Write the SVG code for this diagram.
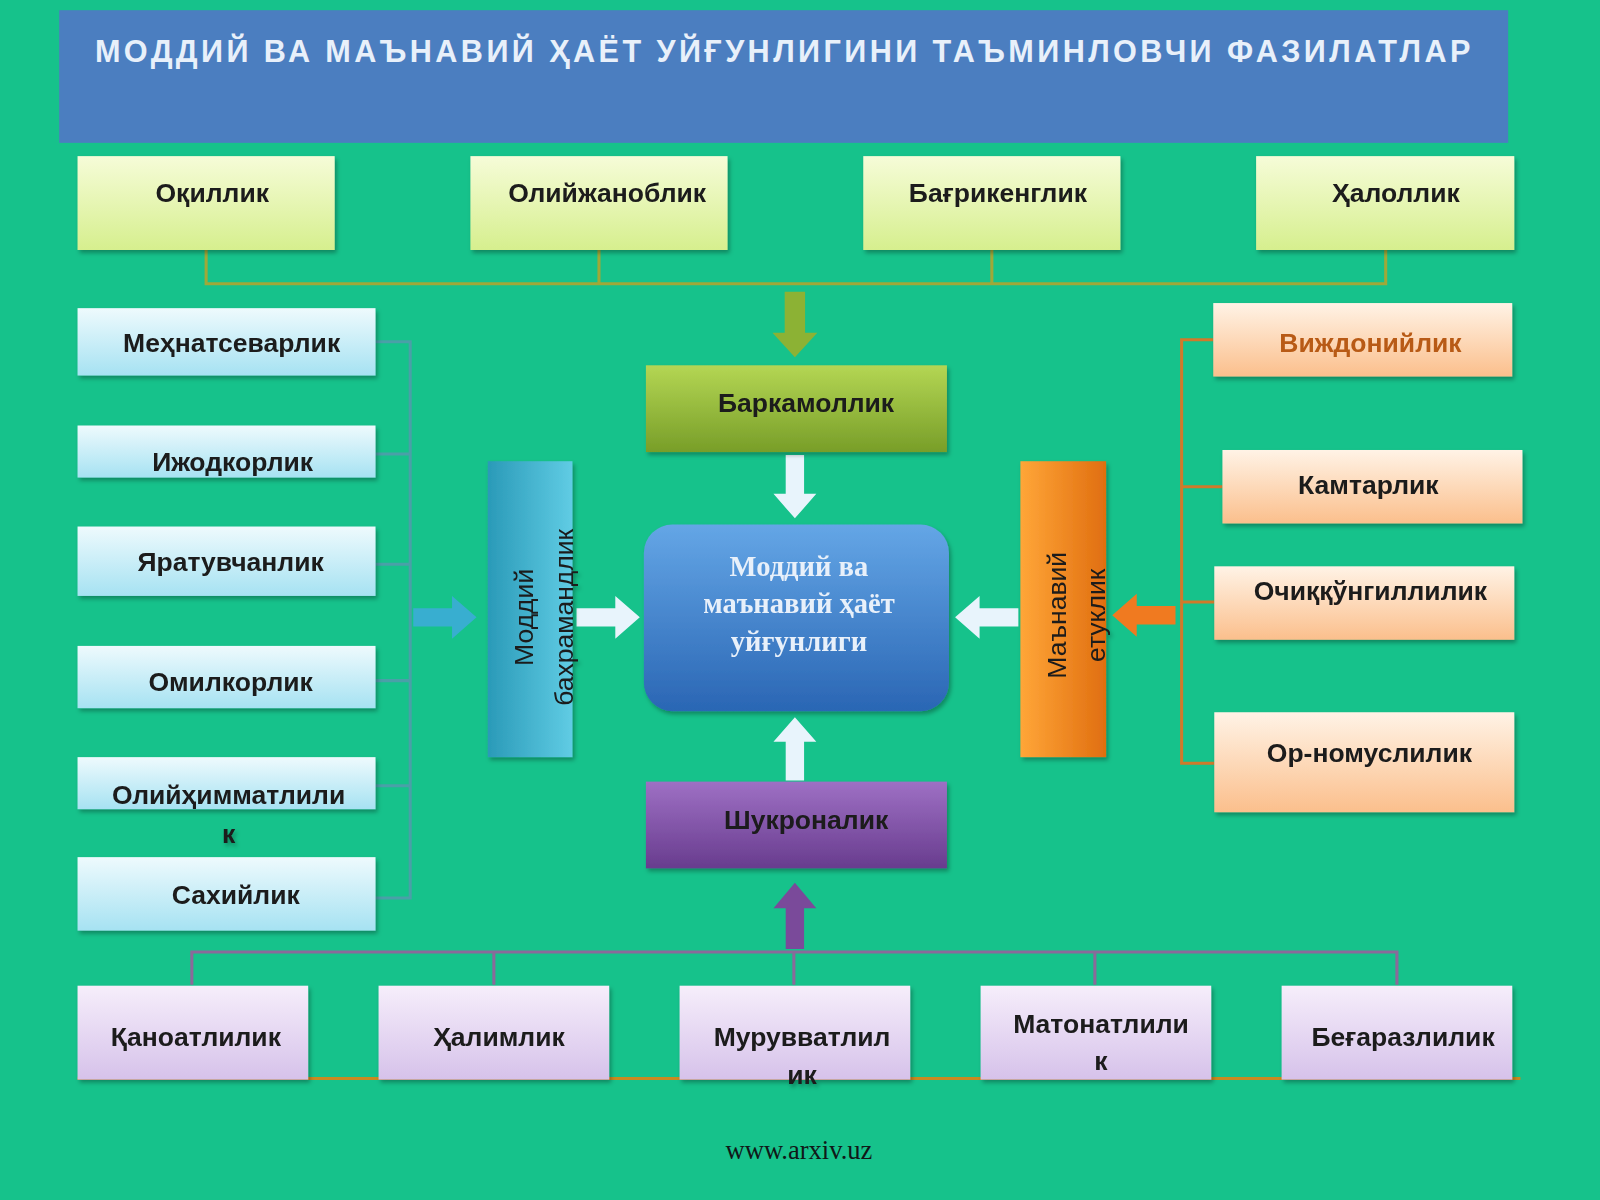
<svg xmlns="http://www.w3.org/2000/svg" width="1600" height="1200" viewBox="0 0 1600 1200">
<defs>
<linearGradient id="gY" x1="0" y1="0" x2="0" y2="1"><stop offset="0" stop-color="#f6fcd8"/><stop offset="1" stop-color="#d6ef8e"/></linearGradient>
<linearGradient id="gC" x1="0" y1="0" x2="0" y2="1"><stop offset="0" stop-color="#eefafd"/><stop offset="1" stop-color="#a6e2f2"/></linearGradient>
<linearGradient id="gP" x1="0" y1="0" x2="0" y2="1"><stop offset="0" stop-color="#fff3e6"/><stop offset="1" stop-color="#fbbf8c"/></linearGradient>
<linearGradient id="gL" x1="0" y1="0" x2="0" y2="1"><stop offset="0" stop-color="#f6eefb"/><stop offset="1" stop-color="#d6c2ea"/></linearGradient>
<linearGradient id="gG" x1="0" y1="0" x2="0" y2="1"><stop offset="0" stop-color="#b4d654"/><stop offset="1" stop-color="#789e28"/></linearGradient>
<linearGradient id="gV" x1="0" y1="0" x2="0" y2="1"><stop offset="0" stop-color="#9e70c4"/><stop offset="1" stop-color="#683c8e"/></linearGradient>
<linearGradient id="gB" x1="0" y1="0" x2="0" y2="1"><stop offset="0" stop-color="#64a6e6"/><stop offset="1" stop-color="#2a66b4"/></linearGradient>
<linearGradient id="gCy" x1="0" y1="0" x2="1" y2="0"><stop offset="0" stop-color="#2a9ab8"/><stop offset="1" stop-color="#60cce4"/></linearGradient>
<linearGradient id="gO" x1="0" y1="0" x2="1" y2="0"><stop offset="0" stop-color="#ffa638"/><stop offset="1" stop-color="#e06e10"/></linearGradient>
<filter id="sh" x="-10%" y="-10%" width="130%" height="130%"><feDropShadow dx="2" dy="3" stdDeviation="2" flood-color="#000" flood-opacity="0.3"/></filter>
</defs>
<style>
.t{font-family:"Liberation Sans",Arial,sans-serif;font-size:26px;font-weight:bold;fill:#1a1a1a;text-anchor:middle}
.box{filter:url(#sh)}
.ln{fill:none;stroke-width:3}
</style>
<rect width="1600" height="1200" fill="#16c28b"/>
<g transform="scale(1.0204)">
<g id="title"><rect x="58" y="10" width="1420" height="130" fill="#4b7ec0"/>
<text x="93" y="61" textLength="1348" style="font-family:'Liberation Sans',Arial,sans-serif;font-size:30px;font-weight:bold;fill:#e8f0fa">МОДДИЙ ВА МАЪНАВИЙ ҲАЁТ УЙҒУНЛИГИНИ ТАЪМИНЛОВЧИ ФАЗИЛАТЛАР</text></g>
<g id="connectors">
<path class="ln" stroke="#a0a838" d="M202 245V278H1358V245M587 245V278M972 245V278"/>
<path class="ln" stroke="#4aa0a8" d="M368 335H402V880H368M368 445H402M368 553H402M368 667H402M368 770H402"/>
<path class="ln" stroke="#d07a2a" d="M1189 333H1158V748H1190M1158 477H1198M1158 590H1190"/>
<path class="ln" stroke="#8a6a9a" d="M188 965V933H1369V965M484 933V965M778 933V965M1073 933V965"/>
<path class="ln" stroke="#c88a20" d="M76 1057H1490"/>
<path d="M769 286h20v40h12l-22 24-22-24h12z" fill="#8cb234"/>
<path d="M770 446h18v38h12l-21 24-21-24h12z" fill="#e8f4fc"/>
<path d="M770 765h18v-38h12l-21-24-21 24h12z" fill="#e8f4fc"/>
<path d="M770 930h18v-40h12l-21-25-21 25h12z" fill="#7a4a9a"/>
<path d="M405 596h38v-12l24 21-24 21v-12h-38z" fill="#38aed0"/>
<path d="M565 596h38v-12l24 21-24 21v-12h-38z" fill="#e8f4fc"/>
<path d="M998 596h-38v-12l-24 21 24 21v-12h38z" fill="#e8f4fc"/>
<path d="M1152 594h-38v-12l-24 21 24 21v-12h38z" fill="#f07a20"/>
</g>
<g id="top1" class="box"><rect x="76" y="153" width="252" height="92" fill="url(#gY)"/><text class="t" x="208" y="198">Оқиллик</text></g>
<g id="top2" class="box"><rect x="461" y="153" width="252" height="92" fill="url(#gY)"/><text class="t" x="595" y="198">Олийжаноблик</text></g>
<g id="top3" class="box"><rect x="846" y="153" width="252" height="92" fill="url(#gY)"/><text class="t" x="978" y="198">Бағрикенглик</text></g>
<g id="top4" class="box"><rect x="1231" y="153" width="253" height="92" fill="url(#gY)"/><text class="t" x="1368" y="198">Ҳалоллик</text></g>
<g id="l1" class="box"><rect x="76" y="302" width="292" height="66" fill="url(#gC)"/><text class="t" x="227" y="345">Меҳнатсеварлик</text></g>
<g id="l2" class="box"><rect x="76" y="417" width="292" height="51" fill="url(#gC)"/><text class="t" x="228" y="462">Ижодкорлик</text></g>
<g id="l3" class="box"><rect x="76" y="516" width="292" height="68" fill="url(#gC)"/><text class="t" x="226" y="560">Яратувчанлик</text></g>
<g id="l4" class="box"><rect x="76" y="633" width="292" height="61" fill="url(#gC)"/><text class="t" x="226" y="677">Омилкорлик</text></g>
<g id="l5" class="box"><rect x="76" y="742" width="292" height="51" fill="url(#gC)"/><text class="t" x="224" y="788">Олийҳимматлили</text><text class="t" x="224" y="826">к</text></g>
<g id="l6" class="box"><rect x="76" y="840" width="292" height="72" fill="url(#gC)"/><text class="t" x="231" y="886">Сахийлик</text></g>
<g id="r1" class="box"><rect x="1189" y="297" width="293" height="72" fill="url(#gP)"/><text class="t" x="1343" y="345" style="fill:#b85a14">Виждонийлик</text></g>
<g id="r2" class="box"><rect x="1198" y="441" width="294" height="72" fill="url(#gP)"/><text class="t" x="1341" y="484">Камтарлик</text></g>
<g id="r3" class="box"><rect x="1190" y="555" width="294" height="72" fill="url(#gP)"/><text class="t" x="1343" y="588">Очиққўнгиллилик</text></g>
<g id="r4" class="box"><rect x="1190" y="698" width="294" height="98" fill="url(#gP)"/><text class="t" x="1342" y="747">Ор-номуслилик</text></g>
<g id="bark" class="box"><rect x="633" y="358" width="295" height="85" fill="url(#gG)"/><text class="t" x="790" y="404">Баркамоллик</text></g>
<g id="shuk" class="box"><rect x="633" y="766" width="295" height="85" fill="url(#gV)"/><text class="t" x="790" y="812">Шукроналик</text></g>
<g id="center" class="box"><rect x="631" y="514" width="299" height="183" rx="28" fill="url(#gB)"/>
<g style="font-family:'Liberation Serif','Times New Roman',serif;font-size:28px;font-weight:bold;fill:#e8f0fa;text-anchor:middle"><text x="783" y="564">Моддий ва</text><text x="783" y="601">маънавий ҳаёт</text><text x="783" y="638">уйғунлиги</text></g></g>
<g id="moddiy" class="box"><rect x="478" y="452" width="83" height="290" fill="url(#gCy)"/><text class="t" style="font-weight:normal" transform="translate(522 605) rotate(-90)"><tspan x="0" y="0">Моддий</tspan><tspan x="0" y="40">бахрамандлик</tspan></text></g>
<g id="manaviy" class="box"><rect x="1000" y="452" width="84" height="290" fill="url(#gO)"/><text class="t" style="font-weight:normal" transform="translate(1045 603) rotate(-90)"><tspan x="0" y="0">Маънавий</tspan><tspan x="0" y="38">етуклик</tspan></text></g>
<g id="b1" class="box"><rect x="76" y="966" width="226" height="92" fill="url(#gL)"/><text class="t" x="192" y="1025">Қаноатлилик</text></g>
<g id="b2" class="box"><rect x="371" y="966" width="226" height="92" fill="url(#gL)"/><text class="t" x="489" y="1025">Ҳалимлик</text></g>
<g id="b3" class="box"><rect x="666" y="966" width="226" height="92" fill="url(#gL)"/><text class="t" x="786" y="1025">Мурувватлил</text><text class="t" x="786" y="1062">ик</text></g>
<g id="b4" class="box"><rect x="961" y="966" width="226" height="92" fill="url(#gL)"/><text class="t" x="1079" y="1012">Матонатлили</text><text class="t" x="1079" y="1049">к</text></g>
<g id="b5" class="box"><rect x="1256" y="966" width="226" height="92" fill="url(#gL)"/><text class="t" x="1375" y="1025">Беғаразлилик</text></g>
<text x="783" y="1136" style="font-family:'Liberation Serif','Times New Roman',serif;font-size:26px;fill:#101818;text-anchor:middle">www.arxiv.uz</text>
</g>
</svg>
